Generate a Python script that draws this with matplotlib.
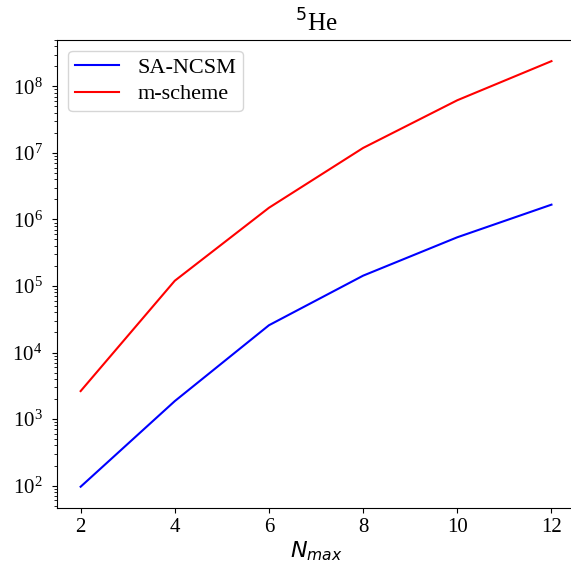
import matplotlib
matplotlib.use("Agg")
import matplotlib.pyplot as plt

plt.rcParams['font.family'] = 'serif'
plt.rcParams['font.serif'] = ['Liberation Serif', 'DejaVu Serif']
plt.rcParams['mathtext.fontset'] = 'dejavusans'
plt.rcParams['font.size'] = 16

# basis dimensions for 5He vs Nmax
nmax = [2, 4, 6, 8, 10, 12]
sa_ncsm = [96, 1.86e3, 2.57e4, 1.43e5, 5.4e5, 1.67e6]
m_scheme = [2.63e3, 1.2e5, 1.5e6, 1.19e7, 6.2e7, 2.4e8]

fig = plt.figure(figsize=(5.71, 5.64), dpi=100)
ax = fig.add_axes([0.1, 0.0993, 0.907, 0.83])

ax.plot(nmax, sa_ncsm, color='blue', label='SA-NCSM')
ax.plot(nmax, m_scheme, color='red', label='m-scheme')
ax.set_yscale('log')
ax.tick_params(axis='y', which='both', labelsize=15, pad=7)
ax.tick_params(axis='x', labelsize=15)

ax.set_title(r'$^5$He', fontsize=18)
ax.set_xlabel(r'$N_{max}$', fontsize=16, labelpad=2)
ax.legend(loc='upper left', labelspacing=0.25, borderpad=0.3)

fig.savefig('out.png', dpi=100)
